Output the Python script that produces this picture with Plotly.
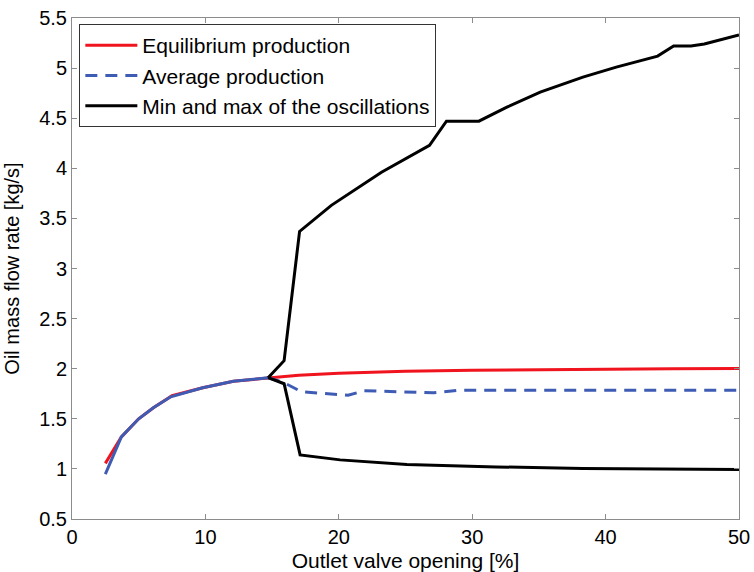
import plotly.graph_objects as go

# Equilibrium production
eq_x = [2.5, 3.7, 5.0, 6.1, 7.5, 9.8, 12.1, 14.7, 17.0, 20.0, 25.0, 30.0, 35.0, 40.0, 45.0, 50.0]
eq_y = [1.055, 1.32, 1.50, 1.61, 1.73, 1.81, 1.875, 1.91, 1.935, 1.955, 1.975, 1.985, 1.992, 1.997, 2.0, 2.003]

# Average production
avg_x = [2.5, 3.7, 5.0, 6.1, 7.4, 9.8, 12.1, 14.7, 15.9, 17.2, 20.7, 21.9, 27.1, 29.1, 32.8, 38.0, 43.0, 46.0, 50.0]
avg_y = [0.948, 1.32, 1.50, 1.61, 1.72, 1.81, 1.875, 1.91, 1.86, 1.77, 1.735, 1.78, 1.76, 1.785, 1.785, 1.78, 1.78, 1.785, 1.785]
split = 7  # index of the bifurcation point (x = 14.7)

# Max of the oscillations
max_x = [14.7, 15.9, 17.06, 19.44, 23.2, 26.8, 28.07, 30.5, 32.6, 35.1, 38.3, 40.8, 43.9, 45.1, 46.4, 47.4, 50.0]
max_y = [1.91, 2.08, 3.37, 3.63, 3.96, 4.23, 4.47, 4.47, 4.61, 4.76, 4.91, 5.01, 5.12, 5.22, 5.22, 5.24, 5.33]

# Min of the oscillations
min_x = [14.7, 15.9, 17.1, 20.1, 25.1, 31.8, 38.3, 43.3, 50.0]
min_y = [1.91, 1.85, 1.14, 1.09, 1.045, 1.02, 1.005, 1.0, 0.995]

x_ticks = [0, 10, 20, 30, 40, 50]
y_ticks = [0.5, 1, 1.5, 2, 2.5, 3, 3.5, 4, 4.5, 5, 5.5]

FONT = "Liberation Sans, Arial, sans-serif"
RED = "#f0141e"
BLUE = "#3f5cb5"

fig = go.Figure()
fig.add_trace(go.Scatter(x=eq_x, y=eq_y, mode="lines", name="Equilibrium production",
                         line=dict(color=RED, width=3)))
fig.add_trace(go.Scatter(x=avg_x[split:], y=avg_y[split:], mode="lines", name="Average production",
                         line=dict(color=BLUE, width=3, dash="12px,8px")))
fig.add_trace(go.Scatter(x=avg_x[:split + 1], y=avg_y[:split + 1], mode="lines", showlegend=False,
                         line=dict(color=BLUE, width=3)))
fig.add_trace(go.Scatter(x=max_x, y=max_y, mode="lines", name="Min and max of the oscillations",
                         line=dict(color="black", width=3)))
fig.add_trace(go.Scatter(x=min_x, y=min_y, mode="lines", showlegend=False,
                         line=dict(color="black", width=3)))

axis_common = dict(
    showline=True, linecolor="#8c8c8c", linewidth=1, mirror="ticks",
    ticks="inside", ticklen=5, tickcolor="#8c8c8c",
    showgrid=False, zeroline=False, automargin=False,
    tickfont=dict(family=FONT, size=20, color="black"),
)

fig.update_layout(
    width=754, height=572,
    margin=dict(l=72, r=15, t=18, b=53, autoexpand=False),
    paper_bgcolor="white", plot_bgcolor="white",
    font=dict(family=FONT, size=20, color="black"),
    xaxis=dict(range=[0, 50], tickvals=x_ticks,
               title=dict(text="Outlet valve opening [%]", font=dict(size=21), standoff=6),
               **axis_common),
    yaxis=dict(range=[0.5, 5.5], tickvals=y_ticks,
               title=dict(text="Oil mass flow rate [kg/s]", font=dict(size=20), standoff=14),
               **axis_common),
    legend=dict(x=0.011, y=0.988, xanchor="left", yanchor="top",
                bgcolor="white", bordercolor="#333333", borderwidth=1,
                font=dict(family=FONT, size=21, color="black"),
                tracegroupgap=0, itemwidth=52),
)

fig.write_html("out.html", config={"displayModeBar": False},
               post_script="document.body.style.margin='0';document.body.style.overflow='hidden';")
